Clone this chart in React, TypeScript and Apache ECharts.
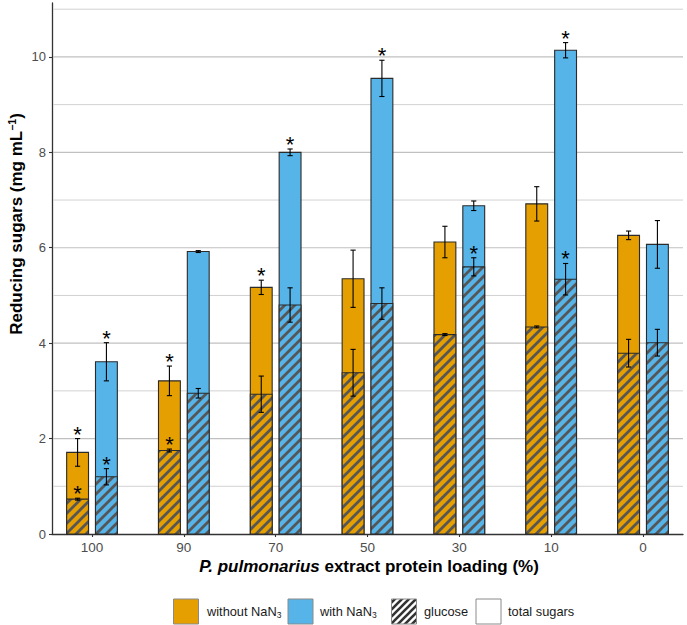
import React, { useEffect, useRef } from 'react';
import * as echarts from 'echarts';

// Protein loading of the P. pulmonarius extract (%), one group per loading
const loadings = ['100', '90', '70', '50', '30', '10', '0'];

// Without NaN3: total reducing sugars and glucose (mg/mL) with their error
const totalWithout = [1.71, 3.21, 5.17, 5.35, 6.12, 6.92, 6.26];
const totalWithoutErr = [0.29, 0.31, 0.15, 0.6, 0.33, 0.36, 0.09];
const glucoseWithout = [0.73, 1.75, 2.93, 3.38, 4.18, 4.34, 3.79];
const glucoseWithoutErr = [0.02, 0.03, 0.38, 0.49, 0.02, 0.02, 0.29];

// With NaN3
const totalWith = [3.61, 5.92, 8.0, 9.55, 6.88, 10.14, 6.07];
const totalWithErr = [0.4, 0.02, 0.07, 0.38, 0.1, 0.16, 0.5];
const glucoseWith = [1.2, 2.95, 4.8, 4.83, 5.6, 5.34, 4.01];
const glucoseWithErr = [0.17, 0.1, 0.36, 0.33, 0.19, 0.33, 0.28];

// Significance marks (1 = asterisk drawn above the error bar)
const starTotalWithout = [1, 1, 1, 0, 0, 0, 0];
const starGlucoseWithout = [1, 1, 0, 0, 0, 0, 0];
const starTotalWith = [1, 0, 1, 1, 0, 1, 0];
const starGlucoseWith = [1, 0, 0, 0, 1, 1, 0];

// Axis ticks
const yTickValues = [0, 2, 4, 6, 8, 10];
const gridValues = [1, 2, 3, 4, 5, 6, 7, 8, 9, 10, 11];

const FONT = '"Liberation Sans", Arial, Helvetica, sans-serif';
const ORANGE = '#E69F00';
const BLUE = '#56B4E9';
const OUTLINE = '#2b2b2b';
const X_MIN = 0.5644;
const X_MAX = 7.4356;
const Y_MAX = 11.13;
const DODGE = 0.157;
const HALF_W = 0.119;
const CAP = 2.6;

function stripes(bg: string, stripe: string, size: number, width: number) {
  const c = document.createElement('canvas');
  c.width = size;
  c.height = size;
  const g = c.getContext('2d') as CanvasRenderingContext2D;
  g.fillStyle = bg;
  g.fillRect(0, 0, size, size);
  g.strokeStyle = stripe;
  g.lineWidth = width;
  g.beginPath();
  g.moveTo(-size / 2, size / 2);
  g.lineTo(size / 2, -size / 2);
  g.moveTo(0, size);
  g.lineTo(size, 0);
  g.moveTo(size / 2, size * 1.5);
  g.lineTo(size * 1.5, size / 2);
  g.stroke();
  return { image: c, repeat: 'repeat', imageWidth: size, imageHeight: size };
}

function buildRows(
  total: number[], totalErr: number[], glu: number[], gluErr: number[],
  starT: number[], starG: number[]
) {
  return loadings.map((_, i) => [i + 1, total[i], totalErr[i], glu[i], gluErr[i], starT[i], starG[i]]);
}

function barRenderer(offset: number, fill: string, hatch: any) {
  return (_params: any, api: any) => {
    const x = api.value(0) + offset;
    const total = api.value(1);
    const tErr = api.value(2);
    const glu = api.value(3);
    const gErr = api.value(4);
    const [xl, y0] = api.coord([x - HALF_W, 0]);
    const [xr, yT] = api.coord([x + HALF_W, total]);
    const yG = api.coord([x, glu])[1];
    const xc = (xl + xr) / 2;
    const children: any[] = [];
    children.push({
      type: 'rect',
      shape: { x: xl, y: yT, width: xr - xl, height: y0 - yT },
      style: { fill, stroke: OUTLINE, lineWidth: 1.1 },
    });
    children.push({
      type: 'rect',
      shape: { x: xl, y: yG, width: xr - xl, height: y0 - yG },
      style: { fill: hatch, stroke: OUTLINE, lineWidth: 1.1 },
    });
    const errorBar = (v: number, e: number, star: number) => {
      const top = api.coord([x, v + e])[1];
      const bot = api.coord([x, v - e])[1];
      const ls = { stroke: '#000', lineWidth: 1.1 };
      children.push({ type: 'line', shape: { x1: xc, y1: top, x2: xc, y2: bot }, style: ls });
      children.push({ type: 'line', shape: { x1: xc - CAP, y1: top, x2: xc + CAP, y2: top }, style: ls });
      children.push({ type: 'line', shape: { x1: xc - CAP, y1: bot, x2: xc + CAP, y2: bot }, style: ls });
      if (star) {
        children.push({
          type: 'text',
          x: xc,
          y: top - 4.5,
          style: {
            text: '*', fill: '#000', fontSize: 22, fontFamily: FONT,
            align: 'center', verticalAlign: 'middle',
          },
        });
      }
    };
    errorBar(total, tErr, api.value(5));
    errorBar(glu, gErr, api.value(6));
    return { type: 'group', children };
  };
}

export default function App() {
  const ref = useRef<HTMLDivElement>(null);

  useEffect(() => {
    if (!ref.current) return;
    const chart = echarts.init(ref.current, undefined, { renderer: 'svg' });

    const hatchOrange = stripes(ORANGE, '#565656', 10, 2.8);
    const hatchBlue = stripes(BLUE, '#565656', 10, 2.8);
    const hatchKey = stripes('#ffffff', '#333333', 7, 2.6);

    const legendText = (x: number, text: string) => ({
      type: 'text',
      x,
      y: 611.5,
      style: {
        text,
        fill: '#1a1a1a',
        fontSize: 12.8,
        fontFamily: FONT,
        align: 'left',
        verticalAlign: 'middle',
        rich: {
          n: { fontSize: 12.8, fontFamily: FONT, fill: '#1a1a1a', lineHeight: 16 },
          sub: { fontSize: 8.5, fontFamily: FONT, fill: '#1a1a1a', verticalAlign: 'bottom', lineHeight: 9 },
        },
      },
    });
    const legendKey = (x: number, fill: any) => ({
      type: 'rect',
      shape: { x, y: 599, width: 25, height: 25 },
      style: { fill, stroke: '#8a8a8a', lineWidth: 1 },
    });

    chart.setOption({
      animation: false,
      grid: { left: 52, right: 4, top: 3, bottom: 91 },
      xAxis: {
        type: 'value',
        min: X_MIN,
        max: X_MAX,
        splitLine: { show: false },
        axisLine: { show: true, onZero: true, lineStyle: { color: '#333', width: 1.3 } },
        axisTick: { show: true, length: 3, customValues: [1, 2, 3, 4, 5, 6, 7], lineStyle: { color: '#333', width: 1.1 } },
        axisLabel: {
          customValues: [1, 2, 3, 4, 5, 6, 7],
          formatter: (v: number) => loadings[Math.round(v) - 1],
          color: '#4d4d4d',
          fontSize: 13.5,
          fontFamily: FONT,
          margin: 6,
        },
      },
      yAxis: {
        type: 'value',
        min: 0,
        max: Y_MAX,
        splitLine: { show: false },
        axisLine: { show: true, onZero: false, lineStyle: { color: '#333', width: 1.3 } },
        axisTick: { show: true, length: 3, customValues: yTickValues, lineStyle: { color: '#333', width: 1.1 } },
        axisLabel: {
          customValues: yTickValues,
          color: '#4d4d4d',
          fontSize: 13,
          fontFamily: FONT,
          margin: 6,
        },
      },
      series: [
        {
          type: 'custom',
          name: 'grid',
          silent: true,
          z: 1,
          encode: { x: 0, y: 1 },
          data: gridValues.map((v) => [1, v]),
          renderItem: (params: any, api: any) => {
            const cs = params.coordSys;
            const v = api.value(1);
            const y = api.coord([1, v])[1];
            const major = v % 2 === 0;
            return {
              type: 'line',
              shape: { x1: cs.x + 1, y1: y, x2: cs.x + cs.width, y2: y },
              style: { stroke: major ? '#c0c0c0' : '#d2d2d2', lineWidth: major ? 1.2 : 1 },
            };
          },
        },
        {
          type: 'custom',
          name: 'without NaN3',
          z: 2,
          encode: { x: 0, y: 1 },
          data: buildRows(totalWithout, totalWithoutErr, glucoseWithout, glucoseWithoutErr, starTotalWithout, starGlucoseWithout),
          renderItem: barRenderer(-DODGE, ORANGE, hatchOrange),
        },
        {
          type: 'custom',
          name: 'with NaN3',
          z: 2,
          encode: { x: 0, y: 1 },
          data: buildRows(totalWith, totalWithErr, glucoseWith, glucoseWithErr, starTotalWith, starGlucoseWith),
          renderItem: barRenderer(DODGE, BLUE, hatchBlue),
        },
      ],
      graphic: [
        {
          type: 'text',
          x: 16,
          y: 224,
          rotation: Math.PI / 2,
          style: {
            text: '{t|Reducing sugars (mg mL}{sup|−1}{t|)}',
            align: 'center',
            verticalAlign: 'middle',
            fill: '#000',
            fontFamily: FONT,
            fontSize: 17,
            fontWeight: 'bold',
            rich: {
              t: { fontSize: 17, fontWeight: 'bold', fontFamily: FONT, fill: '#000', lineHeight: 20 },
              sup: { fontSize: 10.5, fontWeight: 'bold', fontFamily: FONT, fill: '#000', verticalAlign: 'top', lineHeight: 11 },
            },
          },
        },
        {
          type: 'text',
          x: 369,
          y: 566,
          style: {
            text: '{i|P. pulmonarius} {t|extract protein loading (%)}',
            align: 'center',
            verticalAlign: 'middle',
            fill: '#000',
            fontFamily: FONT,
            fontSize: 17,
            fontWeight: 'bold',
            rich: {
              i: { fontSize: 17, fontWeight: 'bold', fontStyle: 'italic', fontFamily: FONT, fill: '#000' },
              t: { fontSize: 17, fontWeight: 'bold', fontFamily: FONT, fill: '#000' },
            },
          },
        },
        legendKey(173.5, ORANGE),
        legendText(207, '{n|without NaN}{sub|3}'),
        legendKey(288, BLUE),
        legendText(320, '{n|with NaN}{sub|3}'),
        legendKey(391.5, hatchKey),
        legendText(424, '{n|glucose}'),
        legendKey(476, '#ffffff'),
        legendText(508, '{n|total sugars}'),
      ],
    });

    return () => chart.dispose();
  }, []);

  return (
    <div
      ref={ref}
      style={{ position: 'fixed', left: 0, top: 0, width: 687, height: 625, background: '#fff' }}
    />
  );
}
